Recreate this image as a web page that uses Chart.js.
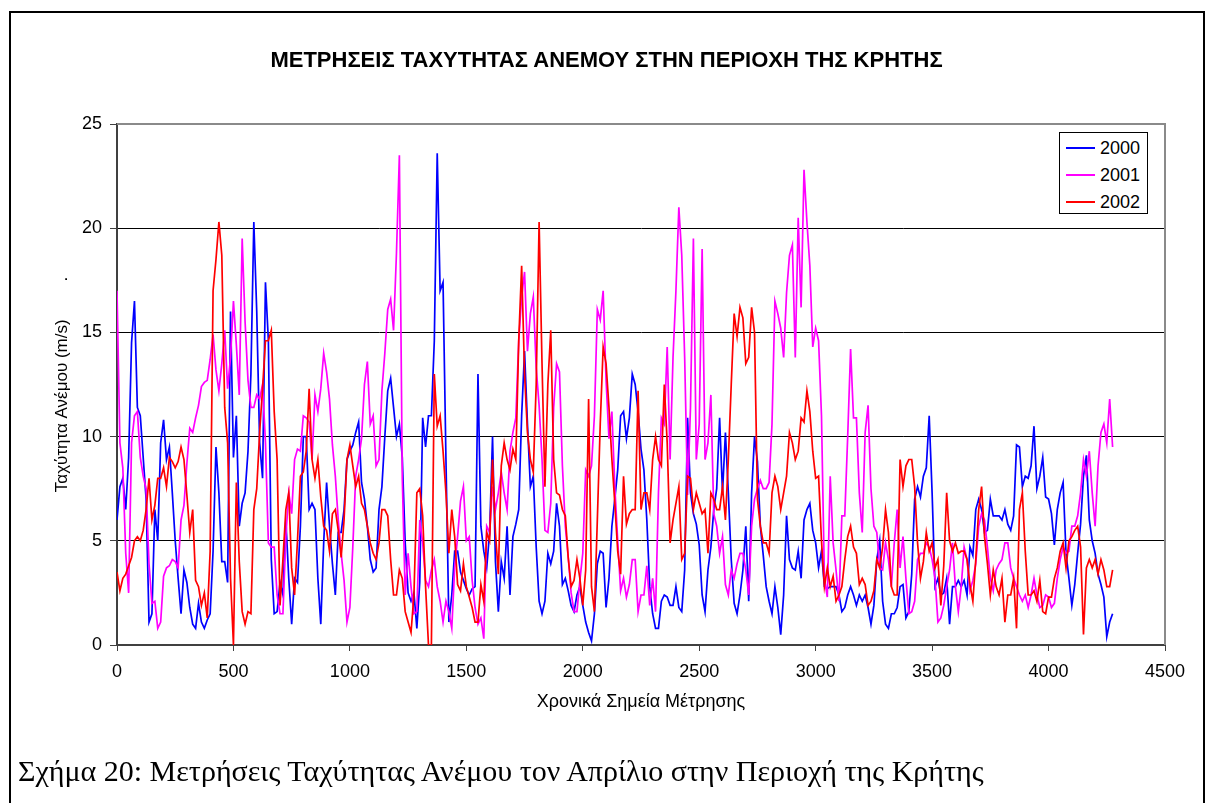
<!DOCTYPE html>
<html>
<head>
<meta charset="utf-8">
<script src="https://cdn.jsdelivr.net/npm/chart.js@4.4.1/dist/chart.umd.min.js"></script>
<style>
  body { margin: 0; background: #fff; width: 1213px; height: 803px; overflow: hidden; position: relative;
         font-family: "Liberation Sans", Arial, sans-serif; }
  #frame { position: absolute; left: 9px; top: 11px; width: 1192px; height: 830px; border: 2px solid #000; }
  #wrap { position: absolute; left: 0; top: 0; width: 1213px; height: 803px; }
  #title { position: absolute; left: 0; top: 49px; width: 1213px; text-align: center;
           font-weight: bold; font-size: 22px; line-height: 22px; color: #000; }
  #legend { position: absolute; left: 1059px; top: 132px; width: 87px; height: 80px;
            border: 1px solid #000; background: #fff; }
  .item { position: absolute; left: 0; height: 27px; width: 87px; }
  .item .swatch { position: absolute; left: 6px; top: 13px; width: 29px; height: 2px; }
  .item .lbl { position: absolute; left: 40px; top: 3px; font-size: 18px; line-height: 22px; color: #000; }
  #caption { position: absolute; left: 18px; top: 755px; white-space: nowrap;
             font-family: "Liberation Serif", "Times New Roman", serif; font-size: 30px; line-height: 32px; color: #000; }
</style>
</head>
<body>
<div id="frame"></div>
<div id="wrap"><canvas id="chart" width="1213" height="803"></canvas></div>
<div id="title">ΜΕΤΡΗΣΕΙΣ ΤΑΧΥΤΗΤΑΣ ΑΝΕΜΟΥ ΣΤΗΝ ΠΕΡΙΟΧΗ ΤΗΣ ΚΡΗΤΗΣ</div>
<div id="legend"></div>
<div id="caption">Σχήμα 20: Μετρήσεις Ταχύτητας Ανέμου τον Απρίλιο στην Περιοχή της Κρήτης</div>
<script>
// Measurement points (sample index along the month)
const points = [
  0,12.5,25,37.5,50,62.5,75,87.5,100,112.5,125,137.5,150,162.5,175,187.5,200,212.5,225,237.5,
  250,262.5,275,287.5,300,312.5,325,337.5,350,362.5,375,387.5,400,412.5,425,437.5,450,462.5,475,487.5,
  500,512.5,525,537.5,550,562.5,575,587.5,600,612.5,625,637.5,650,662.5,675,687.5,700,712.5,725,737.5,
  750,762.5,775,787.5,800,812.5,825,837.5,850,862.5,875,887.5,900,912.5,925,937.5,950,962.5,975,987.5,
  1000,1012.5,1025,1037.5,1050,1062.5,1075,1087.5,1100,1112.5,1125,1137.5,1150,1162.5,1175,1187.5,1200,1212.5,1225,1237.5,
  1250,1262.5,1275,1287.5,1300,1312.5,1325,1337.5,1350,1362.5,1375,1387.5,1400,1412.5,1425,1437.5,1450,1462.5,1475,1487.5,
  1500,1512.5,1525,1537.5,1550,1562.5,1575,1587.5,1600,1612.5,1625,1637.5,1650,1662.5,1675,1687.5,1700,1712.5,1725,1737.5,
  1750,1762.5,1775,1787.5,1800,1812.5,1825,1837.5,1850,1862.5,1875,1887.5,1900,1912.5,1925,1937.5,1950,1962.5,1975,1987.5,
  2000,2012.5,2025,2037.5,2050,2062.5,2075,2087.5,2100,2112.5,2125,2137.5,2150,2162.5,2175,2187.5,2200,2212.5,2225,2237.5,
  2250,2262.5,2275,2287.5,2300,2312.5,2325,2337.5,2350,2362.5,2375,2387.5,2400,2412.5,2425,2437.5,2450,2462.5,2475,2487.5,
  2500,2512.5,2525,2537.5,2550,2562.5,2575,2587.5,2600,2612.5,2625,2637.5,2650,2662.5,2675,2687.5,2700,2712.5,2725,2737.5,
  2750,2762.5,2775,2787.5,2800,2812.5,2825,2837.5,2850,2862.5,2875,2887.5,2900,2912.5,2925,2937.5,2950,2962.5,2975,2987.5,
  3000,3012.5,3025,3037.5,3050,3062.5,3075,3087.5,3100,3112.5,3125,3137.5,3150,3162.5,3175,3187.5,3200,3212.5,3225,3237.5,
  3250,3262.5,3275,3287.5,3300,3312.5,3325,3337.5,3350,3362.5,3375,3387.5,3400,3412.5,3425,3437.5,3450,3462.5,3475,3487.5,
  3500,3512.5,3525,3537.5,3550,3562.5,3575,3587.5,3600,3612.5,3625,3637.5,3650,3662.5,3675,3687.5,3700,3712.5,3725,3737.5,
  3750,3762.5,3775,3787.5,3800,3812.5,3825,3837.5,3850,3862.5,3875,3887.5,3900,3912.5,3925,3937.5,3950,3962.5,3975,3987.5,
  4000,4012.5,4025,4037.5,4050,4062.5,4075,4087.5,4100,4112.5,4125,4137.5,4150,4162.5,4175,4187.5,4200,4212.5,4225,4237.5,
  4250,4262.5,4275
];

// Wind speed (m/s), April 2000
const speed2000 = [
  6,7.6,8,6.5,9,14.5,16.5,11.4,11,9,7,1.1,1.5,6.5,5,9.7,10.8,8.9,9.5,7.3,
  5,3.2,1.5,3.6,3,1.8,1,0.8,2,1.1,0.8,1.2,1.5,4.5,9.5,7.3,4,4,3,16,
  9,11,5.7,6.8,7.3,9.3,13,20.3,16,9.7,8,17.4,14.6,4.1,1.5,1.6,3,2.4,6,3.2,
  1,3.2,3,5.7,10,10,6.5,6.8,6.5,3.2,1,4.9,7.8,5.7,3.9,2.4,5.4,5.4,6.5,8.9,
  9.3,9.6,10.2,10.7,7.8,7,5.7,4.1,3.5,3.7,6.5,7.6,10,12.2,12.8,11.4,10,10.6,9,4.9,
  2.5,2.1,2.5,0.8,3,10.9,9.5,11,11,14.6,23.6,17,17.4,8.9,1.1,2.4,4.5,4.5,3.5,3.1,
  2.7,2.4,2.7,2.8,13,5.7,4.5,3.7,5.4,10,4,1.6,4,3.2,5.7,2.4,5.2,5.8,6.5,11,
  14.1,10.6,7.6,8.1,4.7,2.1,1.5,2.1,4.4,3.9,4.5,6.8,5.7,2.9,3.2,2.6,1.9,1.6,2.4,2.8,
  1.9,1.1,0.6,0.2,1.5,3.9,4.5,4.4,1.8,3.2,5.7,7,8.4,11,11.2,9.9,10.9,13,12.5,11.2,
  9.4,8.4,6,2.8,1.5,0.8,0.8,2.1,2.4,2.3,1.9,1.9,2.8,1.8,1.6,3.6,10.9,7.3,6.3,5.8,
  4.8,2.4,1.6,3.6,4.7,6.5,7.5,10.9,7.3,10.2,7.3,4.1,2,1.5,2.4,3.6,5.7,2.1,7.3,10,
  8.8,5.7,4.3,2.8,2.1,1.5,2.8,1.8,0.5,2.4,6.2,4.1,3.7,3.6,4.5,3.2,6,6.5,6.8,5.5,
  4.9,3.7,4.5,2.8,2.7,2.8,2.8,2.8,2.4,1.6,1.8,2.4,2.8,2.4,1.9,2.4,2.1,2.4,1.8,1,
  1.9,4.1,5,2.1,1,0.8,1.5,1.5,1.8,2.8,2.9,1.3,1.6,3.4,7,7.6,7.1,8.1,8.5,11,
  7.3,2.8,3.2,2.4,2.5,3.2,1,2.8,2.8,3.1,2.8,3.1,2.4,4.7,4.3,6.5,7,6.5,5.4,5.5,
  7,6.2,6.2,6.2,6,6.5,5.8,5.5,6.2,9.6,9.5,7.6,8.1,8,8.6,10.5,7.5,8.1,9,7.1,
  7,6.3,4.8,6.5,7.3,7.8,4.4,3.2,1.9,2.9,4.4,5.8,8.1,9.1,6,5,4.4,3.4,2.9,2.3,
  0.4,1.1,1.5
];

// Wind speed (m/s), April 2001
const speed2001 = [
  17,9.7,8.5,4.4,2.5,9.7,11,11.2,9,8.1,7.5,3.9,2,2.1,0.8,1.1,3.3,3.7,3.8,4.1,
  4,3.7,6,6.7,8.7,10.4,10.2,10.9,11.5,12.4,12.6,12.7,13.7,14.9,13.2,12.2,13.5,15.1,12.3,13.8,
  16.5,14.4,12,19.5,15.5,12.7,11.4,11.4,12,11.8,12.5,9.7,4.9,4.7,4.7,2.4,1.5,1.5,5.2,7.3,
  6.3,8.9,9.4,9.3,11,10.9,10.7,8.9,12,11.2,12.3,14,13.1,11.8,9.6,8.1,6,4.4,3.1,1.1,
  1.8,4.7,8.1,8.9,9.9,12.5,13.6,10.6,11,8.6,8.9,12.2,14,16.1,16.6,15.1,18.8,23.5,8,2.4,
  4.4,2.8,1.5,1.6,6,4.9,3.1,2.8,3.6,4.1,2.8,2.1,1.1,2.1,1.6,0.8,3.7,5.2,6.9,7.6,
  5,5.2,3.1,1.8,1,1.3,0.3,5.7,5.4,7.6,6.5,7.3,8.3,7.3,6.5,9.3,10.2,10.9,14.6,16.7,
  17.9,14.1,15.9,16.7,13.3,11.5,8.9,5.5,5.4,6.8,11.4,13.5,13.1,8.6,5.7,4.2,2.5,1.6,1.6,3.1,
  4.4,8.4,8.1,8.6,11,16.1,15.6,17,12.7,9.9,11.2,7.6,5,2.6,3.2,2.3,2.9,4.1,4.1,1.6,
  2.4,2.4,3.8,1.9,3.2,1.6,7.3,10.9,10.6,14.3,8.9,13.8,17,21,18.7,13.8,7.2,11.4,19.5,8.9,
  10.6,19,8.9,9.7,12,6.3,5.7,4.4,5.2,2.9,2.4,3.6,3.2,3.9,4.4,4.4,3.6,2.4,5.7,7,
  7.5,7.9,7.5,7.5,7.8,10.6,16.5,15.9,15.2,13.8,16.9,18.7,19.2,13.8,20.5,16.2,22.8,20.3,18.2,14.3,
  15.2,14.6,11,3.2,2.3,8.1,4.9,3.6,2.1,6.2,6.2,10,14.2,10.9,10.9,7.3,5.4,10.2,11.5,7.5,
  5.7,5.4,3.7,3.6,4.9,4.1,2.8,4.9,6.5,3.7,5.2,3.2,1.5,1.6,2.1,4.1,4.4,4.4,4.9,4.7,
  4.1,3.2,1.1,1.3,1.9,2.8,3.6,4.9,2.8,1.6,2.8,4.7,4.1,2.6,3.1,3.9,5.7,6.3,6,4.7,
  3.2,2.6,3.6,3.9,4.1,4.9,4.9,3.7,3.2,2.8,2.4,2.1,2.4,1.8,2.4,3.2,2.4,1.8,1.9,2.4,
  2.3,1.8,2,3.2,4.1,4.7,4.4,4.5,5.7,5.7,6.2,7.3,8.9,8.1,9.3,7.3,5.7,8.6,10.2,10.6,
  9.7,11.8,9.5
];

// Wind speed (m/s), April 2002
const speed2002 = [
  3.5,2.6,3.2,3.4,3.8,4.2,5,5.2,5,5.5,6.5,8,6,6.7,8,8,8.5,7.6,9,8.8,
  8.5,8.8,9.5,8.9,7.2,5.4,6.5,3.1,2.8,1.9,2.5,1.3,4.5,17,18.5,20.3,18.7,11.4,9.7,3.2,
  0,7.8,4,1.6,1,1.6,1.5,6.5,7.5,10.2,12.3,14.6,14.6,15.1,11.2,8.9,1.9,4.1,6.5,7.3,
  3.7,2.4,5,8.1,8.3,9.3,12.3,8.9,8,8.9,7.1,5.7,5.5,4.5,6.3,6.5,5.5,4.2,6,8.9,
  9.6,8.6,7.6,8.1,6.8,6.5,5.7,4.9,4.4,4.1,4.9,6.5,6.5,6.2,4.1,2.4,2.4,3.6,3.2,1.6,
  1.1,0.6,2.4,7.3,7.5,6.2,2.8,0,0,13,10.5,11,9.3,7.3,4.4,6.5,5.2,2.9,2.6,3.9,
  2.8,2.3,1.8,1.1,1.1,2.9,2.1,5.4,5,8.9,5.4,3.4,8.6,9.7,8.9,8.4,9.4,8.9,14.6,18.2,
  13,10.2,8.9,8.3,12.5,20.3,13.5,7.6,12.5,15.1,8.9,7.3,7.2,6.5,6.2,4.2,2.8,3.1,4.1,3.2,
  1.9,3.6,11.8,2.8,1.6,6,10.6,14.3,13.5,11.4,8.9,6.8,4.5,3.4,8.1,5.8,6.3,6.5,6.5,12.2,
  6.5,7.3,7.3,6.5,8.9,10,8.9,8.6,12.5,9.7,4.9,6,6.8,7.6,4.1,4.4,8.1,8,6.5,7.3,
  6.8,6.3,6.5,4.4,7.3,7,6.5,6.5,7.6,6,8.9,12.5,15.9,14.8,16.2,15.7,13.5,13.8,16.2,15,
  7,5.7,4.9,4.9,4.4,7.3,8.1,7.6,6.5,7.3,8.1,10.2,9.7,8.9,9.3,10.9,10.7,12.2,11.2,9.3,
  8,8.1,5,2.8,3.7,2.8,3.3,2.1,2.4,2.8,4.1,5.2,5.7,4.7,4.4,2.9,3.2,2.9,1.9,2.1,
  2.6,4.1,3.7,4.7,6.5,5.4,2.8,2.4,2.4,8.9,7.6,8.6,8.9,8.9,7.6,4.9,3.2,4,5.4,4.5,
  4.9,3.7,4.1,1.9,3.8,7.3,5,4.5,4.9,4.4,4.5,4.5,4.1,2.9,2.1,4.1,6.5,7.6,5.2,3.9,
  2.4,3.6,2.8,2.4,3.2,1.1,2.4,2.4,3.2,0.8,6.5,7.3,4.5,2.4,2.4,2.6,2.1,3.1,1.6,1.5,
  2.3,2.3,3.2,3.7,4.5,4.9,3.7,5,5.2,5.5,5.7,4.7,0.5,3.7,4.1,3.7,4.1,3.4,4.1,3.6,
  2.8,2.8,3.6
];

const seriesNames = ["2000", "2001", "2002"];
const seriesColors = ["#0000FF", "#FF00FF", "#FF0000"];
const seriesValues = [speed2000, speed2001, speed2002];

const yTicks = [0, 5, 10, 15, 20, 25];
const xTicks = [0, 500, 1000, 1500, 2000, 2500, 3000, 3500, 4000, 4500];

const FONT = "'Liberation Sans', Arial, sans-serif";

// Legend box
const legendEl = document.getElementById("legend");
seriesNames.forEach((name, i) => {
  const row = document.createElement("div");
  row.className = "item";
  row.style.top = (1 + i * 27) + "px";
  row.innerHTML = '<span class="swatch" style="background:' + seriesColors[i] + '"></span>' +
                  '<span class="lbl">' + name + '</span>';
  legendEl.appendChild(row);
});

// Grey frame on the top and right edges of the plot area
const plotFrame = {
  id: "plotFrame",
  beforeDatasetsDraw(chart) {
    const { ctx, chartArea: a } = chart;
    ctx.save();
    ctx.strokeStyle = "#8a8a8a";
    ctx.lineWidth = 2;
    ctx.beginPath();
    ctx.moveTo(a.left, a.top);
    ctx.lineTo(a.right, a.top);
    ctx.lineTo(a.right, a.bottom);
    ctx.stroke();
    ctx.restore();
  }
};

new Chart(document.getElementById("chart"), {
  type: "line",
  data: {
    datasets: seriesValues.map((vals, i) => ({
      label: seriesNames[i],
      data: vals.map((v, k) => ({ x: points[k], y: v })),
      borderColor: seriesColors[i],
      backgroundColor: seriesColors[i],
      borderWidth: 1.7,
      pointRadius: 0,
      tension: 0,
      fill: false,
      order: seriesNames.length - i
    }))
  },
  options: {
    responsive: false,
    animation: false,
    devicePixelRatio: 1,
    layout: { padding: { left: 40, right: 48, top: 124, bottom: 80 } },
    plugins: { legend: { display: false }, title: { display: false }, tooltip: { enabled: false } },
    scales: {
      x: {
        type: "linear",
        min: xTicks[0],
        max: xTicks[xTicks.length - 1],
        afterBuildTicks(s) { s.ticks = xTicks.map(v => ({ value: v })); },
        ticks: { font: { family: FONT, size: 18 }, color: "#000", padding: 10, maxRotation: 0, autoSkip: false,
                 callback: v => String(v) },
        grid: { drawOnChartArea: false, drawTicks: true, tickLength: 6, color: "#404040", lineWidth: 1 },
        border: { color: "#404040", width: 2 },
        title: { display: true, text: "Χρονικά Σημεία Μέτρησης", color: "#000",
                 font: { family: FONT, size: 18 }, padding: { top: 0, bottom: 10 } },
        afterFit(s) { s.height = 78; }
      },
      y: {
        min: yTicks[0],
        max: yTicks[yTicks.length - 1],
        afterBuildTicks(s) { s.ticks = yTicks.map(v => ({ value: v })); },
        ticks: { font: { family: FONT, size: 18 }, color: "#000", padding: 8, callback: v => String(v) },
        grid: { color: "#000", lineWidth: 1, drawTicks: true, tickLength: 7, tickColor: "#404040" },
        border: { color: "#404040", width: 2 },
        title: { display: true, text: "Ταχύτητα Ανέμου (m/s)        .", color: "#000",
                 font: { family: FONT, size: 17 }, padding: { top: 12, bottom: 0 } },
        afterFit(s) { s.width = 77; }
      }
    }
  },
  plugins: [plotFrame]
});
</script>
</body>
</html>
